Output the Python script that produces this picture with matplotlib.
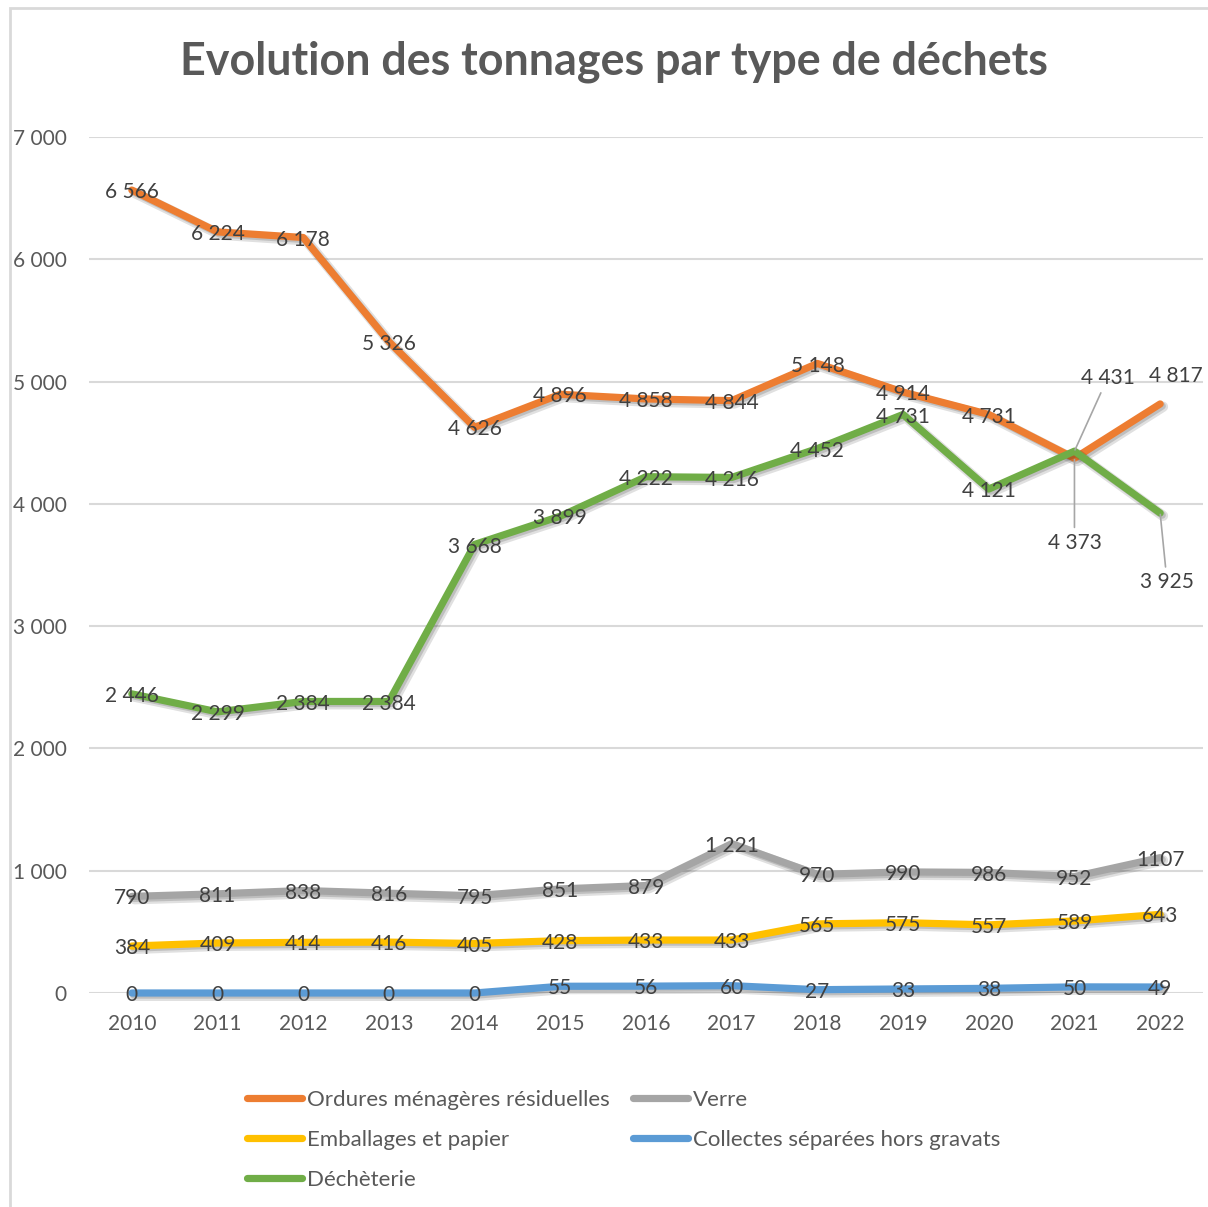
import matplotlib
matplotlib.use("Agg")
import matplotlib.pyplot as plt
import matplotlib.patheffects as pe
from matplotlib.patches import Rectangle
from matplotlib.lines import Line2D

plt.rcParams['font.family'] = ['Lato', 'DejaVu Sans']

years = [2010, 2011, 2012, 2013, 2014, 2015, 2016, 2017, 2018, 2019, 2020, 2021, 2022]
omr = [6566, 6224, 6178, 5326, 4626, 4896, 4858, 4844, 5148, 4914, 4731, 4373, 4817]
verre = [790, 811, 838, 816, 795, 851, 879, 1221, 970, 990, 986, 952, 1107]
emballages = [384, 409, 414, 416, 405, 428, 433, 433, 565, 575, 557, 589, 643]
collectes = [0, 0, 0, 0, 0, 55, 56, 60, 27, 33, 38, 50, 49]
decheterie = [2446, 2299, 2384, 2384, 3668, 3899, 4222, 4216, 4452, 4731, 4121, 4431, 3925]

series_names = ["Ordures ménagères résiduelles", "Verre", "Emballages et papier",
                "Collectes séparées hors gravats", "Déchèterie"]
series_values = [omr, verre, emballages, collectes, decheterie]
colors = ["#ED7D31", "#A5A5A5", "#FFC000", "#5B9BD5", "#70AD47"]

yticks = [0, 1000, 2000, 3000, 4000, 5000, 6000, 7000]
ytick_labels = ["0", "1 000", "2 000", "3 000", "4 000", "5 000", "6 000", "7 000"]

# labels displayed as in source (one label lacks the thousands space)
label_overrides = {("Verre", 2022): "1107"}
# labels moved away from their point, with leader lines: (series, year) -> offset in points
moved_labels = {
    ("Déchèterie", 2021): (24, 53, True),
    ("Ordures ménagères résiduelles", 2022): (11, 20, False),
    ("Ordures ménagères résiduelles", 2021): (0, -61, True),
    ("Déchèterie", 2022): (5, -50, True),
}

def fmt(v):
    return f"{v:,}".replace(",", " ")

W, H = 1208, 1207
fig = plt.figure(figsize=(W / 100, H / 100), dpi=100)
ax = fig.add_axes([89 / W, 1 - 993 / H, (1203 - 89) / W, (993 - 137) / H])

x = list(range(len(years)))
shadow = [pe.SimpleLineShadow(offset=(2.0, -2.0), shadow_color='black', alpha=0.12, linewidth=7.5),
          pe.SimpleLineShadow(offset=(1.5, -1.5), shadow_color='black', alpha=0.15),
          pe.Normal()]
for name, vals, c in zip(series_names, series_values, colors):
    ax.plot(x, vals, color=c, lw=5.2, solid_capstyle='round', solid_joinstyle='round',
            path_effects=shadow, zorder=3, label=name, clip_on=False)

label_color = "#404040"
fs_lab = 15
for name, vals in zip(series_names, series_values):
    for i, (yr, v) in enumerate(zip(years, vals)):
        txt = label_overrides.get((name, yr), fmt(v))
        dx, dy, leader = moved_labels.get((name, yr), (0, -1.5, False))
        ap = dict(arrowstyle='-', color='#A6A6A6', lw=1.2, shrinkA=2, shrinkB=1) if leader else None
        ax.annotate(txt, (i, v), xytext=(dx, dy), textcoords='offset points',
                    ha='center', va='center', fontsize=fs_lab, color=label_color,
                    arrowprops=ap, zorder=6, annotation_clip=False)

ax.set_xlim(-0.5, len(years) - 0.5)
ax.set_ylim(0, 7000)
ax.set_yticks(yticks)
ax.set_yticklabels(ytick_labels)
ax.set_xticks(x)
ax.set_xticklabels([str(y) for y in years])
ax.tick_params(axis='both', length=0, labelsize=15, labelcolor='#595959')
ax.tick_params(axis='y', pad=16)
ax.tick_params(axis='x', pad=15)
for s in ax.spines.values():
    s.set_visible(False)
ax.grid(axis='y', color='#D9D9D9', lw=1.5)
ax.set_axisbelow(True)

fig.text(614 / W, 1 - 62 / H, "Evolution des tonnages par type de déchets",
         ha='center', va='center', fontsize=32.3, fontweight='bold', color='#595959')

fig.patches.append(Rectangle((10 / W, -0.05), 1.2, (H - 8) / H + 0.05, transform=fig.transFigure,
                             fill=False, edgecolor='#D9D9D9', lw=2))

order = [0, 2, 4, 1, 3]
handles = [Line2D([], [], color=colors[k], lw=5.2, solid_capstyle='round') for k in order]
labels = [series_names[k] for k in order]
leg = fig.legend(handles, labels, loc='upper left', bbox_to_anchor=(247 / W, 1 - 1090 / H),
                 ncol=2, frameon=False, fontsize=16, handlelength=2.48, handletextpad=0.22,
                 columnspacing=1.04, labelspacing=0.9, borderpad=0, borderaxespad=0)
for t in leg.get_texts():
    t.set_color('#595959')

fig.savefig("out.png", dpi=100)
